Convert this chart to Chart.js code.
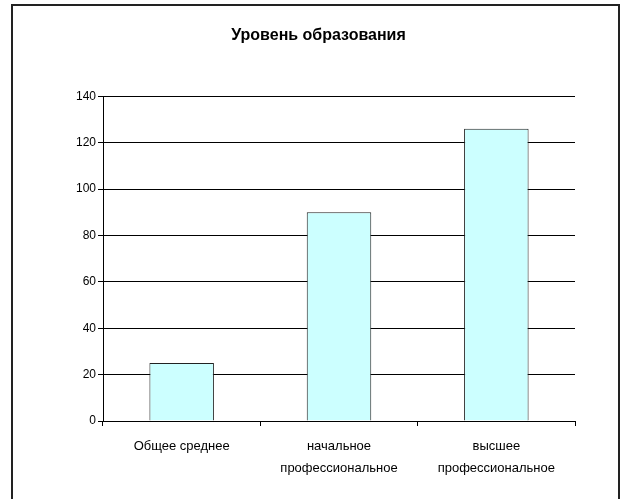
<!DOCTYPE html>
<html lang="ru">
<head>
  <meta charset="UTF-8" />
  <title>Уровень образования</title>
  <script src="https://cdn.jsdelivr.net/npm/chart.js"></script>
  <style>
    body { margin: 0; background: #fff; }
    .wrap { position: relative; width: 629px; height: 499px; }
    .frame {
      position: absolute; left: 11px; top: 4px; width: 609px; height: 500px;
      border: 2px solid #222; box-sizing: border-box; pointer-events: none;
    }
    canvas { position: absolute; left: 0; top: 0; }
  </style>
</head>
<body>
  <div class="wrap">
    <canvas id="eduChart" width="629" height="499"></canvas>
    <div class="frame"></div>
  </div>
  <script>
    const categories = [
      'Общее среднее',
      ['начальное', 'профессиональное'],
      ['высшее', 'профессиональное']
    ];
    const counts = [25, 90, 126];
    const yTicks = [0, 20, 40, 60, 80, 100, 120, 140];

    const font = "'Liberation Sans', Arial, sans-serif";

    new Chart(document.getElementById('eduChart'), {
      type: 'bar',
      data: {
        labels: categories,
        datasets: [{
          data: counts,
          backgroundColor: '#ccffff',
          borderColor: '#222',
          borderWidth: 1,
          barPercentage: 0.41,
          categoryPercentage: 1
        }]
      },
      options: {
        responsive: false,
        animation: false,
        layout: { padding: { left: 62, right: 54, top: 0, bottom: 0 } },
        plugins: {
          legend: { display: false },
          tooltip: { enabled: false },
          title: {
            display: true,
            text: 'Уровень образования',
            color: '#000',
            font: { family: font, size: 16, weight: 'bold' },
            padding: { top: 26, bottom: 51 }
          }
        },
        scales: {
          x: {
            grid: { offset: true, drawOnChartArea: false, drawTicks: true, tickLength: 5, color: '#000' },
            border: { color: '#000', width: 1 },
            ticks: {
              color: '#000', font: { family: font, size: 13, lineHeight: 1.7 },
              padding: 9, maxRotation: 0, autoSkip: false
            },
            afterFit: s => { s.height = 78; }
          },
          y: {
            min: 0, max: 140,
            afterBuildTicks: s => { s.ticks = yTicks.map(v => ({ value: v })); },
            grid: { color: '#000', tickLength: 5 },
            border: { color: '#000', width: 1 },
            ticks: { color: '#000', font: { family: font, size: 12 }, padding: 2 },
            afterFit: s => { s.width = 41; }
          }
        }
      }
    });
  </script>
</body>
</html>
